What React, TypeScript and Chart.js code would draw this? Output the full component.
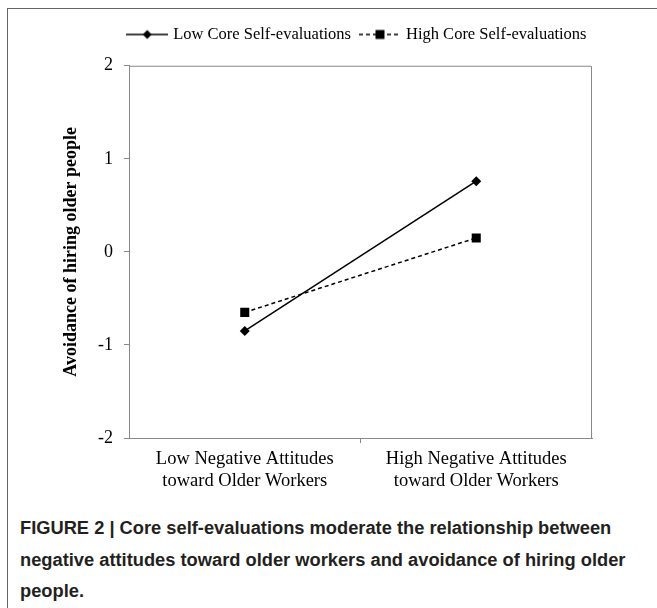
import React, { useEffect, useRef } from "react";
import { Chart, registerables } from "chart.js";

Chart.register(...registerables);

const categories: string[][] = [
  ["Low Negative Attitudes", "toward Older Workers"],
  ["High Negative Attitudes", "toward Older Workers"],
];
const seriesNames = ["Low Core Self-evaluations", "High Core Self-evaluations"];
const lowCSE = [-0.85, 0.76];
const highCSE = [-0.65, 0.15];
const yMin = -2;
const yMax = 2;
const yStep = 1;
const yTitle = "Avoidance of hiring older people";
const captionLines = [
  "FIGURE 2 | Core self-evaluations moderate the relationship between",
  "negative attitudes toward older workers and avoidance of hiring older",
  "people.",
];

const SERIF = "'Liberation Serif', 'Times New Roman', serif";

function makeLegendImage(kind: "diamond" | "square"): HTMLCanvasElement {
  const c = document.createElement("canvas");
  c.width = 42;
  c.height = 12;
  const g = c.getContext("2d")!;
  g.strokeStyle = "#000";
  g.fillStyle = "#000";
  g.lineWidth = 1.5;
  if (kind === "square") g.setLineDash([4, 3]);
  g.beginPath();
  g.moveTo(0, 6);
  g.lineTo(42, 6);
  g.stroke();
  g.setLineDash([]);
  if (kind === "diamond") {
    g.beginPath();
    g.moveTo(21, 1.5);
    g.lineTo(25.5, 6);
    g.lineTo(21, 10.5);
    g.lineTo(16.5, 6);
    g.closePath();
    g.fill();
  } else {
    g.fillRect(16.5, 1.5, 9, 9);
  }
  return c;
}

const plotBox = {
  id: "plotBox",
  beforeDatasetsDraw(chart: any) {
    const { ctx, chartArea } = chart;
    ctx.save();
    ctx.strokeStyle = "#888";
    ctx.lineWidth = 1;
    ctx.beginPath();
    ctx.moveTo(chartArea.left, chartArea.top + 0.5);
    ctx.lineTo(chartArea.right - 0.5, chartArea.top + 0.5);
    ctx.lineTo(chartArea.right - 0.5, chartArea.bottom);
    ctx.stroke();
    ctx.restore();
  },
};

export default function App() {
  const ref = useRef<HTMLCanvasElement>(null);

  useEffect(() => {
    if (!ref.current) return;
    const imgs = [makeLegendImage("diamond"), makeLegendImage("square")];
    const chart = new Chart(ref.current, {
      type: "line",
      data: {
        labels: categories as any,
        datasets: [
          {
            label: seriesNames[0],
            data: lowCSE,
            borderColor: "#000",
            backgroundColor: "#000",
            borderWidth: 1.5,
            pointStyle: "rectRot",
            pointRadius: 5,
            pointBorderWidth: 0,
            pointBackgroundColor: "#000",
          },
          {
            label: seriesNames[1],
            data: highCSE,
            borderColor: "#000",
            backgroundColor: "#000",
            borderWidth: 1.5,
            borderDash: [4, 3],
            pointStyle: "rect",
            pointRadius: 6.4,
            pointBorderWidth: 0,
            pointBackgroundColor: "#000",
          },
        ],
      },
      options: {
        responsive: false,
        animation: false,
        layout: { padding: { top: 15, left: 59, right: 0, bottom: 0 } },
        plugins: {
          tooltip: { enabled: false },
          legend: {
            position: "top",
            align: "center",
            labels: {
              usePointStyle: true,
              pointStyleWidth: 35.5,
              padding: 11.25,
              color: "#000",
              font: { family: SERIF, size: 16.5 },
              generateLabels: (ch: any) =>
                ch.data.datasets.map((ds: any, i: number) => ({
                  text: ds.label,
                  pointStyle: imgs[i],
                  fillStyle: "#000",
                  strokeStyle: "#000",
                  lineWidth: 0,
                  hidden: false,
                  datasetIndex: i,
                  fontColor: "#000",
                })),
            },
          },
        },
        scales: {
          x: {
            type: "category",
            position: "bottom",
            offset: true,
            grid: {
              offset: true,
              drawOnChartArea: false,
              drawTicks: true,
              tickLength: 5,
              color: (c: any) => (c.index === 1 ? "#888" : "rgba(0,0,0,0)"),
            },
            border: { display: true, color: "#888", width: 1 },
            ticks: {
              color: "#000",
              padding: 5,
              maxRotation: 0,
              autoSkip: false,
              font: { family: SERIF, size: 18.5, lineHeight: 1.2 },
            },
            afterFit: (s: any) => {
              s.height = 62;
            },
          },
          xTop: {
            type: "category",
            position: "top",
            display: true,
            grid: { display: false },
            border: { display: false },
            ticks: { display: false },
            afterFit: (s: any) => {
              s.height = 13;
            },
          },
          y: {
            type: "linear",
            position: "left",
            min: yMin,
            max: yMax,
            ticks: {
              stepSize: yStep,
              color: "#000",
              padding: 11,
              font: { family: SERIF, size: 18 },
            },
            grid: {
              drawOnChartArea: false,
              drawTicks: true,
              tickLength: 5,
              color: "#888",
            },
            border: { display: true, color: "#888", width: 1 },
            title: {
              display: true,
              text: yTitle,
              color: "#000",
              padding: { top: 2, bottom: 0 },
              font: { family: SERIF, size: 18, weight: "bold" },
            },
            afterFit: (s: any) => {
              s.width = 70;
            },
          },
          y2: {
            type: "linear",
            position: "right",
            display: true,
            grid: { display: false },
            border: { display: false },
            ticks: { display: false },
            afterFit: (s: any) => {
              s.width = 65;
            },
          },
        },
      } as any,
      plugins: [plotBox],
    });
    return () => chart.destroy();
  }, []);

  return (
    <div
      style={{
        position: "absolute",
        left: 0,
        top: 0,
        width: 657,
        height: 608,
        background: "#fff",
        overflow: "hidden",
      }}
    >
      <div
        style={{
          position: "absolute",
          left: 7,
          top: 8,
          width: 700,
          height: 700,
          borderTop: "1px solid #666",
          borderLeft: "1px solid #666",
        }}
      />
      <canvas
        ref={ref}
        width={657}
        height={500}
        style={{ position: "absolute", left: 0, top: 0, width: 657, height: 500 }}
      />
      <div
        style={{
          position: "absolute",
          left: 20,
          top: 512,
          fontFamily: "'Liberation Sans', Arial, sans-serif",
          fontWeight: "bold",
          fontSize: 18.3,
          lineHeight: "31.5px",
          color: "#231f20",
          whiteSpace: "nowrap",
        }}
      >
        {captionLines.map((l, i) => (
          <div key={i}>{l}</div>
        ))}
      </div>
    </div>
  );
}
